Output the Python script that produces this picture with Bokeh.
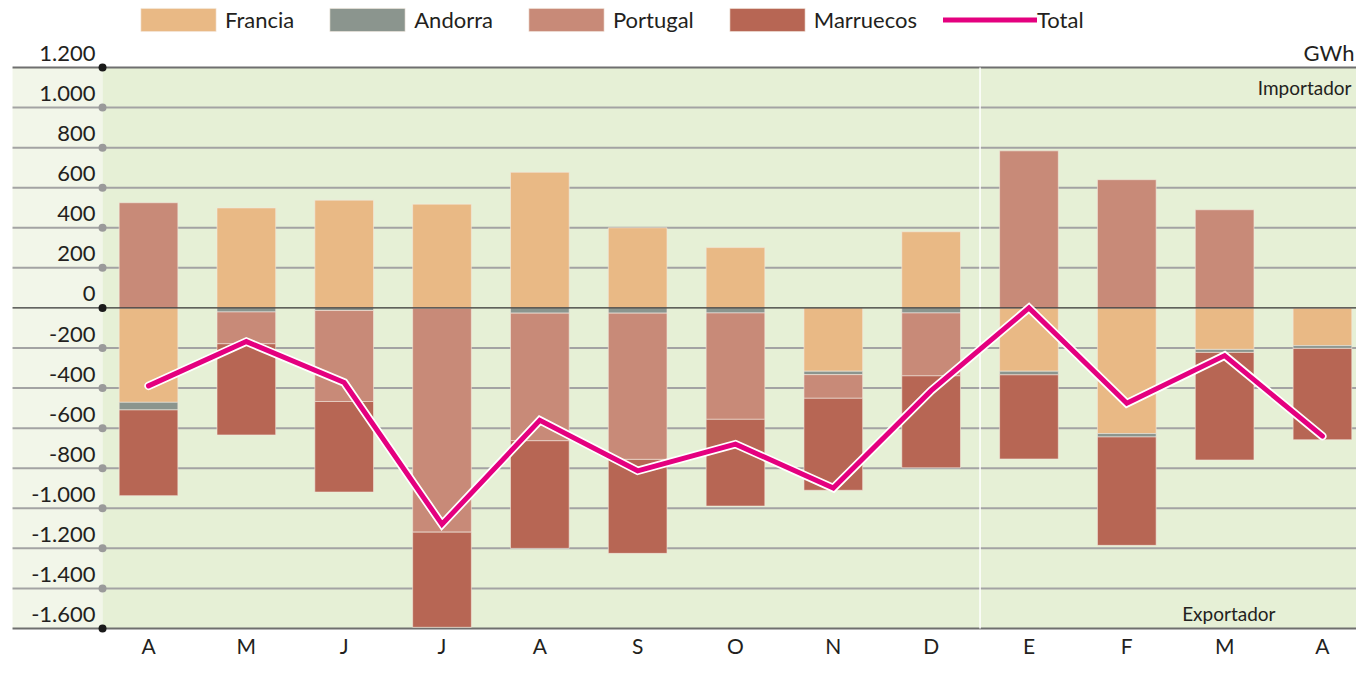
from bokeh.plotting import figure
from bokeh.models import Range1d, LinearAxis, FixedTicker, ColumnDataSource, Legend, LegendItem
from bokeh.core.properties import value
from bokeh.embed import file_html
from bokeh.resources import INLINE

# ---------------- data ----------------
months = ["A", "M", "J", "J", "A", "S", "O", "N", "D", "E", "F", "M", "A"]
francia = [-471, 499, 538, 518, 677, 400, 301, -316, 380, -316, -627, -207, -188]
andorra = [-38, -20, -13, -2, -26, -26, -25, -17, -25, -18, -17, -15, -14]
portugal = [525, -159, -454, -1117, -637, -730, -531, -118, -314, 784, 640, 490, 0]
marruecos = [-428, -455, -452, -475, -537, -469, -433, -459, -459, -420, -541, -537, -456]
total = [-389, -168, -372, -1080, -561, -813, -680, -899, -413, 0, -476, -238, -640]

y_ticks = [1200, 1000, 800, 600, 400, 200, 0, -200, -400, -600, -800, -1000, -1200, -1400, -1600]
y_tick_labels = ["1.200", "1.000", "800", "600", "400", "200", "0", "-200", "-400", "-600",
                 "-800", "-1.000", "-1.200", "-1.400", "-1.600"]

series_names = ["Francia", "Andorra", "Portugal", "Marruecos"]
series_values = [francia, andorra, portugal, marruecos]
series_colors = ["#e9b985", "#8b958e", "#c88a78", "#b76654"]
total_color = "#e4007f"

FONT = "Lato"
TXT = "#231f20"

# ---------------- figure ----------------
W, H = 1356, 659
p = figure(width=W, height=H, output_backend="svg", toolbar_location=None,
           x_range=Range1d(-1.513, 12.348), y_range=Range1d(-1754.7, 1534.4),
           x_axis_location=None, y_axis_location=None, min_border=0)
p.outline_line_color = None
p.background_fill_color = "white"
p.border_fill_color = "white"
p.xgrid.visible = False
p.ygrid.visible = False

YMIN, YMAX = y_ticks[-1], y_ticks[0]
X_COL0, X_AX, X_END = -1.39, -0.47, 13.0

# backgrounds
p.quad(left=[X_COL0], right=[X_AX], bottom=[YMIN], top=[YMAX], fill_color="#f2f6e9", line_color=None)
p.quad(left=[X_AX], right=[X_END], bottom=[YMIN], top=[YMAX], fill_color="#e6f0d6", line_color=None)

# grid lines
inner = [t for t in y_ticks if t not in (YMIN, YMAX, 0)]
p.segment(x0=[X_COL0] * len(inner), x1=[X_END] * len(inner), y0=inner, y1=inner,
          line_color="#a3a3a3", line_width=2)
p.segment(x0=[X_COL0] * 2, x1=[X_END] * 2, y0=[YMIN, YMAX], y1=[YMIN, YMAX],
          line_color="#6f6f6f", line_width=2)

# year separator
p.segment(x0=[8.5], x1=[8.5], y0=[YMIN], y1=[YMAX], line_color="white", line_width=1.5)

# stacked bars
xs = list(range(len(months)))
pos = [0.0] * len(months)
neg = [0.0] * len(months)
bar_renderers = []
for name, vals, col in zip(series_names, series_values, series_colors):
    bottoms, tops = [], []
    for i, v in enumerate(vals):
        if v >= 0:
            bottoms.append(pos[i]); tops.append(pos[i] + v); pos[i] += v
        else:
            tops.append(neg[i]); bottoms.append(neg[i] + v); neg[i] += v
    src = ColumnDataSource(dict(x=xs, bottom=bottoms, top=tops))
    r = p.vbar(x="x", bottom="bottom", top="top", width=0.6, source=src,
               fill_color=col, line_color="#f3e9df", line_width=1, line_alpha=0.6)
    bar_renderers.append((name, r))

# zero line
p.segment(x0=[X_COL0], x1=[X_END], y0=[0], y1=[0], line_color="#333333", line_width=1.2)

# total line
p.line(xs, total, line_color="white", line_width=8.5, line_cap="round", line_join="miter")
total_r = p.line(xs, total, line_color=total_color, line_width=5, line_cap="round", line_join="miter")

# axis dots
dot_colors = ["#1a1a1a" if t in (YMIN, YMAX, 0) else "#9a9a9a" for t in y_ticks]
p.scatter(x=[X_AX] * len(y_ticks), y=y_ticks, marker="circle", size=8,
          fill_color=dot_colors, line_color=None)

# y tick labels (sit just above their grid line)
p.text(x=[X_AX] * len(y_ticks), y=y_ticks, text=y_tick_labels, x_offset=-7, y_offset=-14,
       text_align="right", text_baseline="middle", text_font=value(FONT),
       text_font_size="22px", text_color=TXT)

# x axis (months)
xaxis = LinearAxis(fixed_location=YMIN, ticker=FixedTicker(ticks=xs),
                   major_label_overrides={i: m for i, m in enumerate(months)})
xaxis.axis_line_color = None
xaxis.major_tick_line_color = None
xaxis.minor_tick_line_color = None
xaxis.major_tick_in = 0
xaxis.major_tick_out = 0
xaxis.major_label_standoff = 4
xaxis.major_label_text_font = FONT
xaxis.major_label_text_font_size = "21px"
xaxis.major_label_text_color = TXT
p.add_layout(xaxis, "below")

# annotations
p.text(x=[12.327], y=[YMAX], text=["GWh"], y_offset=-15, text_align="right", text_baseline="middle",
       text_font=value(FONT), text_font_size="22px", text_color=TXT)
p.text(x=[12.297], y=[YMAX], text=["Importador"], y_offset=20, text_align="right", text_baseline="middle",
       text_font=value(FONT), text_font_size="19px", text_color=TXT)
p.text(x=[11.52], y=[YMIN], text=["Exportador"], y_offset=-15, text_align="right", text_baseline="middle",
       text_font=value(FONT), text_font_size="19px", text_color=TXT)

# legend
items = [LegendItem(label=n, renderers=[r]) for n, r in bar_renderers]
items.append(LegendItem(label="Total", renderers=[total_r]))
legend = Legend(items=items, orientation="horizontal", location=(131, 625),
                glyph_width=94, glyph_height=29, label_standoff=0, spacing=26,
                padding=0, margin=0, border_line_alpha=0, background_fill_alpha=0,
                label_text_font=FONT, label_text_font_size="22px", label_text_color=TXT)
p.add_layout(legend, "center")

open("out.html", "w").write(file_html(p, INLINE))
